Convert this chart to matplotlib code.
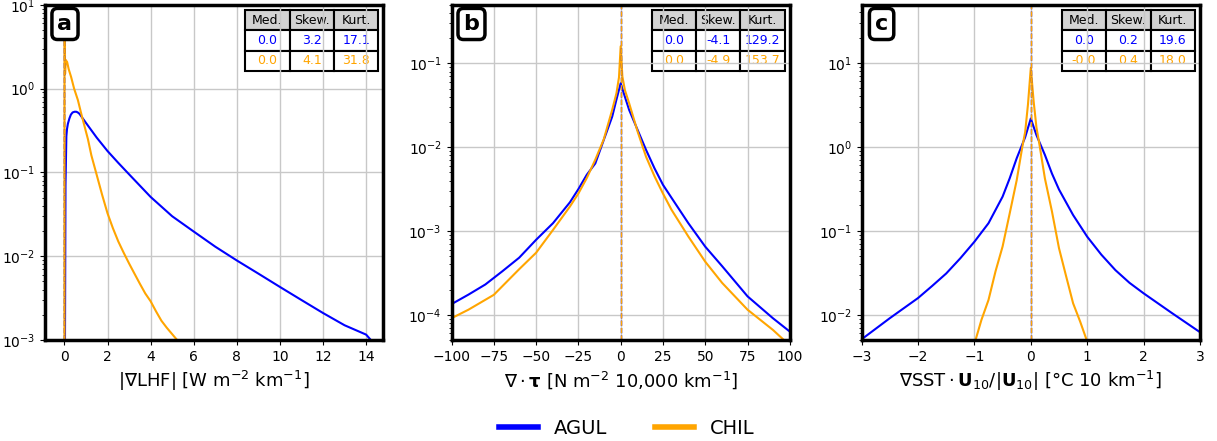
import numpy as np
import matplotlib
matplotlib.use("Agg")
import matplotlib.pyplot as plt
from matplotlib.lines import Line2D

BLUE = "#0000ff"
ORANGE = "#ffa500"

# Panel a: |grad LHF|
a_agul_x = [0, 0.05, 0.09, 0.12, 0.16, 0.23, 0.3, 0.38, 0.47, 0.55, 0.62, 0.7, 1.0, 1.5, 2.0, 2.5, 3.0,
            4.0, 5.0, 6.0, 7.0, 8.0, 9.0, 10.0, 11.0, 12.0, 13.0, 14.0, 14.22]
a_agul_y = [1e-5, 0.07, 0.27, 0.33, 0.38, 0.44, 0.49, 0.52, 0.53, 0.53, 0.52, 0.50, 0.39, 0.26, 0.18, 0.13, 0.095,
            0.051, 0.030, 0.0197, 0.013, 0.0089, 0.0062, 0.0043, 0.003, 0.0021, 0.0015, 0.00116, 0.001]
a_chil_x = [0, 0.005, 0.03, 0.06, 0.125, 0.2, 0.31, 0.45, 0.625, 0.8, 1.09, 1.25, 1.5, 1.75, 2.0, 2.25, 2.5,
            2.75, 3.0, 3.25, 3.5, 3.75, 4.0, 4.25, 4.5, 4.75, 5.23]
a_chil_y = [1e-5, 30, 1.5, 2.2, 2.08, 1.7, 1.38, 1.0, 0.73, 0.48, 0.25, 0.16, 0.093, 0.054, 0.0325, 0.0216, 0.015,
            0.011, 0.0082, 0.0062, 0.0047, 0.0036, 0.0029, 0.0022, 0.0017, 0.0014, 0.001]

# Panel b: div tau
b_x = [-100, -90, -80, -70, -60, -50, -40, -30, -25, -20, -15, -10, -5, -2.5, 0,
       2.5, 5, 10, 15, 20, 25, 30, 40, 50, 60, 75, 90, 100]
b_agul = [1.34e-4, 1.74e-4, 2.3e-4, 3.3e-4, 4.8e-4, 7.85e-4, 1.24e-3, 2.2e-3, 3.16e-3, 4.7e-3, 6.4e-3, 0.0122,
          0.0232, 0.037, 0.058, 0.040, 0.0279, 0.0161, 9.3e-3, 5.6e-3, 3.56e-3, 2.5e-3, 1.24e-3, 6.5e-4,
          3.8e-4, 1.66e-4, 9.1e-5, 6.3e-5]
b_chil_x = [-100, -90, -75, -60, -50, -40, -30, -25, -20, -15, -10, -5, -2.5, -1, 0, 1, 2.5, 5, 10, 15,
            20, 25, 30, 40, 50, 60, 75, 90, 100]
b_chil = [9.1e-5, 1.15e-4, 1.73e-4, 3.5e-4, 5.5e-4, 1.03e-3, 1.96e-3, 2.8e-3, 4.3e-3, 7.1e-3, 0.0124, 0.028,
          0.044, 0.068, 0.16, 0.07, 0.048, 0.0335, 0.0154, 7.7e-3, 4.5e-3, 2.8e-3, 1.8e-3, 8.6e-4, 4.3e-4,
          2.4e-4, 1.15e-4, 6.6e-5, 4.3e-5]

# Panel c: grad SST . U10/|U10|
c_x = [-3, -2.5, -2, -1.75, -1.5, -1.25, -1, -0.75, -0.5, -0.375, -0.25, -0.1, 0, 0.1, 0.25, 0.375, 0.5,
       0.75, 1, 1.25, 1.5, 1.75, 2, 2.5, 3]
c_agul = [0.0051, 0.0091, 0.0158, 0.022, 0.031, 0.047, 0.074, 0.123, 0.255, 0.42, 0.73, 1.3, 2.17, 1.38,
          0.80, 0.48, 0.31, 0.154, 0.085, 0.052, 0.034, 0.024, 0.018, 0.0105, 0.0062]
c_chil_x = [-1.0, -0.875, -0.75, -0.625, -0.5, -0.375, -0.25, -0.15, -0.1, -0.05, 0, 0.05, 0.1, 0.15, 0.25,
            0.375, 0.5, 0.625, 0.75, 0.875, 1.0]
c_chil = [0.0045, 0.0087, 0.015, 0.033, 0.065, 0.16, 0.40, 1.0, 1.5, 3.2, 8.7, 3.5, 1.7, 1.1, 0.42,
          0.17, 0.062, 0.029, 0.0137, 0.0083, 0.0048]

stats_cols = ["Med.", "Skew.", "Kurt."]
stats = {
    "a": [["0.0", "3.2", "17.1"], ["0.0", "4.1", "31.8"]],
    "b": [["0.0", "-4.1", "129.2"], ["0.0", "-4.9", "153.7"]],
    "c": [["0.0", "0.2", "19.6"], ["-0.0", "0.4", "18.0"]],
}
medians = {"a": (0.0, 0.0), "b": (0.0, 0.0), "c": (0.0, 0.0)}

fig = plt.figure(figsize=(12.17, 4.41), dpi=100)
lefts = [0.037, 0.371, 0.708]
axes = [fig.add_axes([l, 0.229, 0.278, 0.760]) for l in lefts]

panels = [
    ("a", a_agul_x, a_agul_y, a_chil_x, a_chil_y, (-0.9, 14.8), (1e-3, 1e1),
     "|∇LHF| [W m$^{-2}$ km$^{-1}$]"),
    ("b", b_x, b_agul, b_chil_x, b_chil, (-100, 100), (5e-5, 0.5),
     r"$\nabla\cdot\mathbf{\tau}$ [N m$^{-2}$ 10,000 km$^{-1}$]"),
    ("c", c_x, c_agul, c_chil_x, c_chil, (-3, 3), (5e-3, 49),
     r"$\nabla\mathrm{SST}\cdot\mathbf{U}_{10}/|\mathbf{U}_{10}|$ [°C 10 km$^{-1}$]"),
]

for ax, (lab, xa, ya, xc, yc, xlim, ylim, xlabel) in zip(axes, panels):
    ax.plot(xa, ya, color=BLUE, lw=1.5)
    ax.plot(xc, yc, color=ORANGE, lw=1.5)
    ax.axvline(medians[lab][0], color=BLUE, ls="--", lw=1)
    ax.axvline(medians[lab][1], color=ORANGE, ls="--", lw=1)
    ax.set_yscale("log")
    ax.set_xlim(*xlim)
    ax.set_ylim(*ylim)
    ax.grid(True, which="major", color="#c8c8c8", lw=1)
    ax.set_axisbelow(True)
    ax.set_xlabel(xlabel, fontsize=13)
    for s in ax.spines.values():
        s.set_linewidth(2.5)
    ax.text(0.059, 0.943, lab, transform=ax.transAxes, fontsize=16, fontweight="bold",
            ha="center", va="center",
            bbox=dict(boxstyle="round,pad=0.25", fc="white", ec="black", lw=2.5))
    tab = ax.table(cellText=stats[lab], colLabels=stats_cols, cellLoc="center",
                   bbox=[0.592, 0.803, 0.393, 0.182])
    tab.auto_set_font_size(False)
    tab.set_fontsize(9)
    for (r, c), cell in tab.get_celld().items():
        cell.set_linewidth(1.5)
        if r == 0:
            cell.set_facecolor("#d3d3d3")
        elif r == 1:
            cell.get_text().set_color(BLUE)
        else:
            cell.get_text().set_color(ORANGE)

axes[1].set_xticks([-100, -75, -50, -25, 0, 25, 50, 75, 100])

handles = [Line2D([], [], color=BLUE, lw=4), Line2D([], [], color=ORANGE, lw=4)]
fig.legend(handles, ["AGUL", "CHIL"], loc="center", bbox_to_anchor=(0.515, 0.028),
           ncol=2, frameon=False, fontsize=14, columnspacing=2.5)

fig.savefig("out.png", dpi=100)
